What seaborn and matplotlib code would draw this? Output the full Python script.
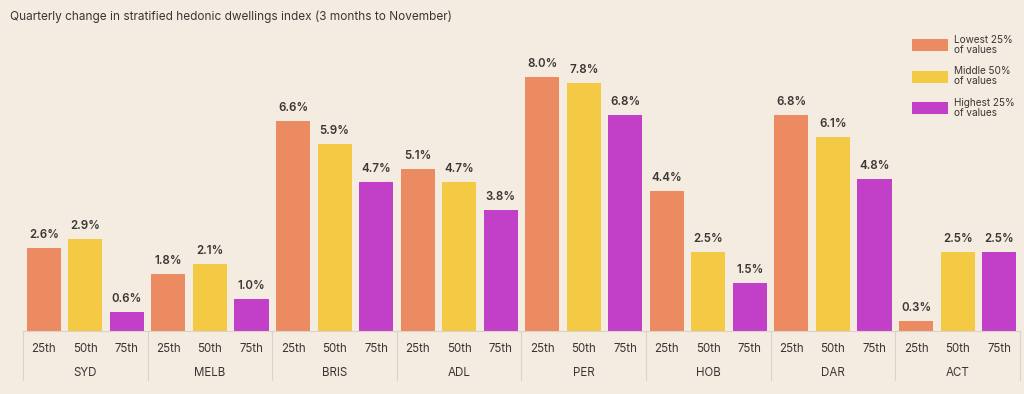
import numpy as np
import pandas as pd
import matplotlib
matplotlib.use("Agg")
import matplotlib.pyplot as plt
import matplotlib.transforms as mtransforms
from matplotlib.patches import Patch
import seaborn as sns

# ---------------------------------------------------------------------------
# Data
# ---------------------------------------------------------------------------
cities = ["SYD", "MELB", "BRIS", "ADL", "PER", "HOB", "DAR", "ACT"]
percentiles = ["25th", "50th", "75th"]
p25 = [2.6, 1.8, 6.6, 5.1, 8.0, 4.4, 6.8, 0.3]
p50 = [2.9, 2.1, 5.9, 4.7, 7.8, 2.5, 6.1, 2.5]
p75 = [0.6, 1.0, 4.7, 3.8, 6.8, 1.5, 4.8, 2.5]
legend_labels = ["Lowest 25%\nof values", "Middle 50%\nof values", "Highest 25%\nof values"]

BG = "#f5ece1"
TEXT_DARK = "#3a3633"
GRID = "#d9d3cb"
COLORS = ["#ec8a62", "#f4c943", "#c23fc8"]

sns.set_theme(style="white", rc={"figure.facecolor": BG, "axes.facecolor": BG})
plt.rcParams["font.family"] = ["Inter", "DejaVu Sans"]

rows = []
for ci, city in enumerate(cities):
    for pi, (pct, vals) in enumerate(zip(percentiles, [p25, p50, p75])):
        rows.append({"slot": f"{city} {pct}", "city": city, "pct": pct, "value": vals[ci]})
df = pd.DataFrame(rows)

fig = plt.figure(figsize=(10.24, 3.94), dpi=100)
ax = fig.add_axes([0.0225, 0.16, 0.9735, 0.79])

sns.barplot(data=df, x="slot", y="value", hue="pct", palette=COLORS,
            dodge=False, width=0.82, legend=False, ax=ax, saturation=1,
            edgecolor="none", linewidth=0)

ax.set_ylim(0, 9.8)
ax.set_xlim(-0.5, len(df) - 0.5)
for s in ["top", "right", "left"]:
    ax.spines[s].set_visible(False)
ax.spines["bottom"].set_color(GRID)
ax.spines["bottom"].set_linewidth(0.8)
ax.set_yticks([])
ax.set_xlabel("")
ax.set_ylabel("")

# value labels
for container in ax.containers:
    ax.bar_label(container, fmt="%.1f%%", padding=5, fontsize=8.3,
                 fontweight="semibold", color=TEXT_DARK)

# percentile tick labels
ax.set_xticks(range(len(df)))
ax.set_xticklabels(df["pct"], fontsize=8.3, color=TEXT_DARK)
ax.tick_params(axis="x", length=0, pad=9)

# city labels & separators
trans = mtransforms.blended_transform_factory(ax.transData, ax.transAxes)
for ci, city in enumerate(cities):
    ax.text(ci * 3 + 1, -0.135, city, transform=trans, ha="center", va="center",
            fontsize=8.3, color=TEXT_DARK)
for b in range(len(cities) + 1):
    x = b * 3 - 0.5
    ax.plot([x, x], [0, -0.158], transform=trans, color=GRID, lw=0.8, clip_on=False)

fig.text(0.01, 0.957, "Quarterly change in stratified hedonic dwellings index (3 months to November)",
         fontsize=8.5, color=TEXT_DARK, ha="left", va="center")

handles = [Patch(facecolor=c, edgecolor="none") for c in COLORS]
leg = fig.legend(handles, legend_labels, loc="upper right", bbox_to_anchor=(1.0, 0.935),
                 frameon=False, fontsize=7.2, handlelength=3.6, handleheight=1.5,
                 labelspacing=1.15, handletextpad=0.6)
for t in leg.get_texts():
    t.set_color(TEXT_DARK)
    t.set_linespacing(1.0)

fig.savefig("out.png", dpi=100, facecolor=BG)
